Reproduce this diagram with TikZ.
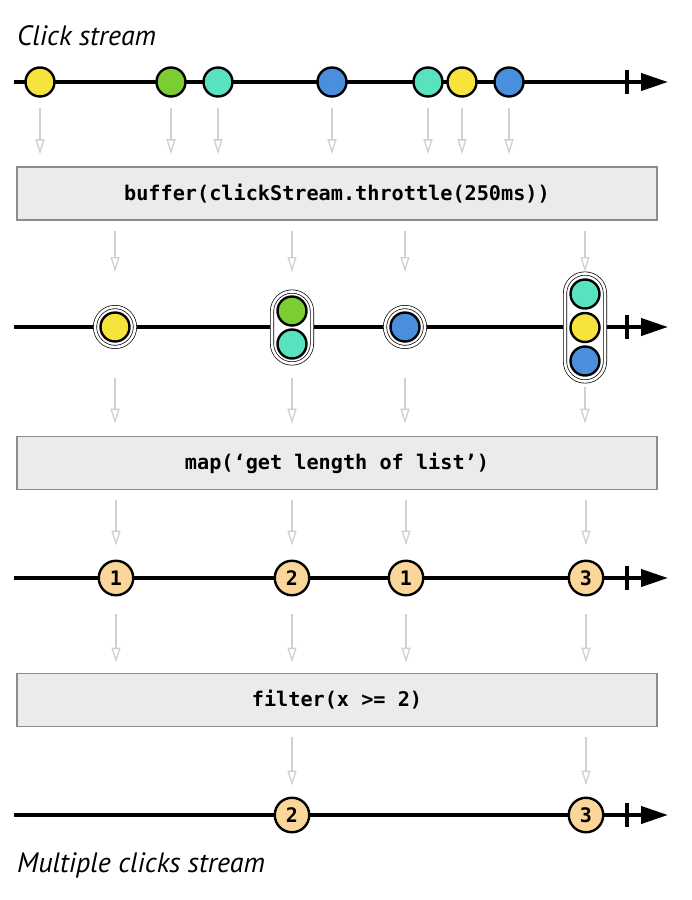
\documentclass[tikz,border=0pt]{standalone}
\usepackage{fontspec}
\setmainfont{PT Sans}
\setmonofont{DejaVu Sans Mono}
\usetikzlibrary{arrows.meta,positioning,calc}
\definecolor{myellow}{RGB}{246,228,60}
\definecolor{mgreen}{RGB}{124,204,52}
\definecolor{mteal}{RGB}{88,226,192}
\definecolor{mblue}{RGB}{74,142,222}
\definecolor{morange}{RGB}{250,214,155}
\definecolor{boxfill}{RGB}{235,235,235}
\definecolor{boxline}{RGB}{140,140,140}
\definecolor{flowgray}{RGB}{208,208,208}

\begin{document}
\begin{tikzpicture}[x=1pt,y=-1pt,
    marble/.style={circle,draw=black,line width=2.4pt,minimum size=29pt,inner sep=0pt},
    countmarble/.style={marble,fill=morange,minimum size=34.5pt,font=\ttfamily\bfseries\fontsize{20}{20}\selectfont},
    wrapper/.style={rectangle,rounded corners=20pt,draw=black,line width=0.7pt,double=white,double distance=2.6pt,fill=white,minimum width=40pt,inner sep=0pt},
    opbox/.style={rectangle,draw=boxline,line width=1.6pt,fill=boxfill,minimum width=640pt,minimum height=53pt,font=\ttfamily\bfseries\fontsize{20.2}{20.2}\selectfont},
    flow/.style={draw=flowgray,line width=1.3pt,-{Triangle[open,length=15pt,width=9pt]}},
    timeline/.style={line width=4pt,-{Triangle[length=27pt,width=17pt]}},
    tick/.style={line width=4pt},
    caption/.style={anchor=base west,inner sep=0pt,font=\fontsize{28}{32}\selectfont\itshape}]
    \useasboundingbox (0,0) rectangle (692,900);

    % Time lines
    \foreach \y [count=\i] in {82,327,578,815} {
        \coordinate (start\i) at (14,\y);
        \coordinate (end\i) at (668,\y);
        \draw[timeline] (start\i) -- (end\i);
        \draw[tick] (627,\y-12) -- (627,\y+12);
    }

    % Click stream
    \node[caption] (title) at (17,45) {Click stream};
    \foreach \x/\c [count=\i] in {40/myellow,171/mgreen,218/mteal,332/mblue,428/mteal,462/myellow,509/mblue} {
        \node[marble,fill=\c] (c\i) at (\x,82) {};
    }

    % Operators
    \node[opbox] (box1) at (337,193.5) {buffer(clickStream.throttle(250ms))};
    \node[opbox] (box2) at (337,463) {map(‘get length of list’)};
    \node[opbox] (box3) at (337,700) {filter(x >= 2)};

    % Buffered lists
    \node[wrapper,minimum height=40pt] (w1) at (115,327) {};
    \node[wrapper,minimum height=72pt] (w2) at (292,327.5) {};
    \node[wrapper,minimum height=40pt] (w3) at (405,327) {};
    \node[wrapper,minimum height=108pt] (w4) at (585,327.5) {};
    \node[marble,fill=myellow] (w1a) at (115,327) {};
    \node[marble,fill=mgreen] (w2a) at (292,311) {};
    \node[marble,fill=mteal] (w2b) at (292,344) {};
    \node[marble,fill=mblue] (w3a) at (405,327) {};
    \node[marble,fill=mteal] (w4a) at (585,294) {};
    \node[marble,fill=myellow] (w4b) at (585,327.5) {};
    \node[marble,fill=mblue] (w4c) at (585,361) {};

    % Lengths
    \foreach \x/\v [count=\i] in {116/1,292/2,406/1,586/3} {
        \node[countmarble] (n\i) at (\x,578) {\v};
    }

    % Multiple clicks stream
    \node[countmarble] (o1) at (292,815) {2};
    \node[countmarble] (o2) at (586,815) {3};
    \node[caption] (result) at (17,872) {Multiple clicks stream};

    % Connections
    \foreach \i in {1,...,7} {
        \draw[flow,shorten <=10pt,shorten >=12pt] (c\i) -- (c\i |- box1.north);
    }
    \foreach \i in {1,...,4} {
        \draw[flow,shorten <=10pt] (box1.south -| w\i) -- (w\i |- 0,272);
    }
    \foreach \i/\s in {1/378,2/378,3/378,4/387} {
        \draw[flow,shorten >=12pt] (w\i |- 0,\s) -- (w\i |- box2.north);
    }
    \foreach \i in {1,...,4} {
        \draw[flow,shorten <=10pt,shorten >=14pt] (box2.south -| n\i) -- (n\i);
        \draw[flow,shorten <=18pt,shorten >=10pt] (n\i) -- (n\i |- box3.north);
    }
    \foreach \i in {1,2} {
        \draw[flow,shorten <=10pt,shorten >=11pt] (box3.south -| o\i) -- (o\i);
    }
\end{tikzpicture}
\end{document}
